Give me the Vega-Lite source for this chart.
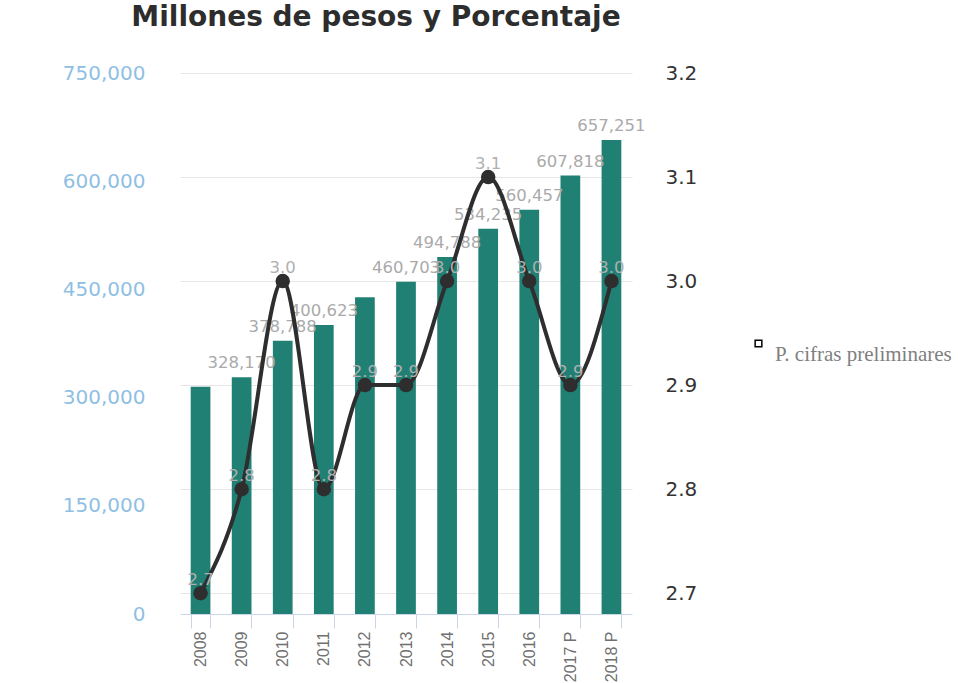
{
  "$schema": "https://vega.github.io/schema/vega-lite/v6.json",
  "width": 452,
  "height": 541,
  "autosize": {"type": "none"},
  "padding": {"left": 180, "top": 73, "right": 343, "bottom": 69},
  "background": "white",
  "config": {"view": {"stroke": null}},
  "title": {
    "text": "Millones de pesos y Porcentaje",
    "font": "DejaVu Sans",
    "fontSize": 28,
    "fontWeight": "bold",
    "color": "#2d2d2d",
    "anchor": "middle",
    "frame": "group",
    "dx": -30,
    "offset": 31
  },
  "data": {
    "values": [
      {"anio": "2008", "monto": 315000, "pct": 2.7},
      {"anio": "2009", "monto": 328170, "pct": 2.8},
      {"anio": "2010", "monto": 378788, "pct": 3.0},
      {"anio": "2011", "monto": 400623, "pct": 2.8},
      {"anio": "2012", "monto": 439000, "pct": 2.9},
      {"anio": "2013", "monto": 460703, "pct": 2.9},
      {"anio": "2014", "monto": 494788, "pct": 3.0},
      {"anio": "2015", "monto": 534235, "pct": 3.1},
      {"anio": "2016", "monto": 560457, "pct": 3.0},
      {"anio": "2017 P", "monto": 607818, "pct": 2.9},
      {"anio": "2018 P", "monto": 657251, "pct": 3.0}
    ]
  },
  "encoding": {
    "x": {
      "field": "anio",
      "type": "nominal",
      "sort": null,
      "scale": {"paddingInner": 0.52, "paddingOuter": 0.26},
      "axis": {
        "title": null,
        "labelAngle": -90,
        "labelColor": "#707070",
        "labelFontSize": 16,
        "labelFont": "Liberation Sans",
        "labelPadding": 3,
        "domainColor": "#ccd6eb",
        "tickColor": "#ccd6eb",
        "tickSize": 14,
        "tickBand": "extent"
      }
    }
  },
  "layer": [
    {
      "layer": [
        {
          "mark": {"type": "bar", "color": "#218074"},
          "encoding": {
            "y": {
              "field": "monto",
              "type": "quantitative",
              "scale": {"domain": [0, 750000], "nice": false},
              "axis": {
                "orient": "left",
                "title": null,
                "values": [0, 150000, 300000, 450000, 600000, 750000],
                "labelExpr": "format(datum.value, ',')",
                "grid": false,
                "domain": false,
                "ticks": false,
                "labelColor": "#8fbfe3",
                "labelFontSize": 20,
                "labelFont": "DejaVu Sans",
                "labelPadding": 35
              }
            }
          }
        },
        {
          "transform": [{"filter": "datum.anio != '2008' && datum.anio != '2012'"}],
          "mark": {
            "type": "text",
            "baseline": "bottom",
            "dy": -6,
            "font": "DejaVu Sans",
            "fontSize": 16.5,
            "color": "#aaaaaa"
          },
          "encoding": {
            "y": {"field": "monto", "type": "quantitative"},
            "text": {"field": "monto", "type": "quantitative", "format": ","}
          }
        }
      ]
    },
    {
      "layer": [
        {
          "mark": {"type": "line", "interpolate": "monotone", "color": "#2e2e2e", "strokeWidth": 4},
          "encoding": {
            "y": {
              "field": "pct",
              "type": "quantitative",
              "scale": {"domain": [2.68, 3.2], "nice": false, "zero": false},
              "axis": {
                "orient": "right",
                "title": null,
                "values": [2.7, 2.8, 2.9, 3.0, 3.1, 3.2],
                "labelExpr": "format(datum.value, '.1f')",
                "grid": true,
                "gridColor": "#e6e6e6",
                "domain": false,
                "ticks": false,
                "labelColor": "#333333",
                "labelFontSize": 20,
                "labelFont": "DejaVu Sans",
                "labelPadding": 33
              }
            }
          }
        },
        {
          "mark": {"type": "point", "filled": true, "size": 210, "color": "#2e2e2e", "opacity": 1},
          "encoding": {"y": {"field": "pct", "type": "quantitative"}}
        },
        {
          "mark": {
            "type": "text",
            "baseline": "bottom",
            "dy": -5,
            "font": "DejaVu Sans",
            "fontSize": 16.5,
            "color": "#b0b0b0"
          },
          "encoding": {
            "y": {"field": "pct", "type": "quantitative"},
            "text": {"field": "pct", "type": "quantitative", "format": ".1f"}
          }
        },
        {
          "mark": {"type": "point", "opacity": 0},
          "encoding": {
            "y": {"field": "pct", "type": "quantitative"},
            "shape": {
              "datum": "P. cifras preliminares",
              "scale": {"range": ["square"]},
              "legend": {
                "title": null,
                "orient": "none",
                "legendX": 568,
                "legendY": 260,
                "symbolType": "square",
                "symbolFillColor": "white",
                "symbolStrokeColor": "black",
                "symbolStrokeWidth": 1.5,
                "symbolSize": 45,
                "symbolOpacity": 1,
                "labelFont": "Liberation Serif",
                "labelFontSize": 21,
                "labelColor": "#808080",
                "labelBaseline": "top",
                "labelOffset": 6,
                "labelLimit": 400,
                "labelOpacity": 1,
                "encode": {"labels": {"update": {"dy": {"value": 4}}}}
              }
            }
          }
        }
      ]
    }
  ],
  "resolve": {"scale": {"y": "independent"}}
}
